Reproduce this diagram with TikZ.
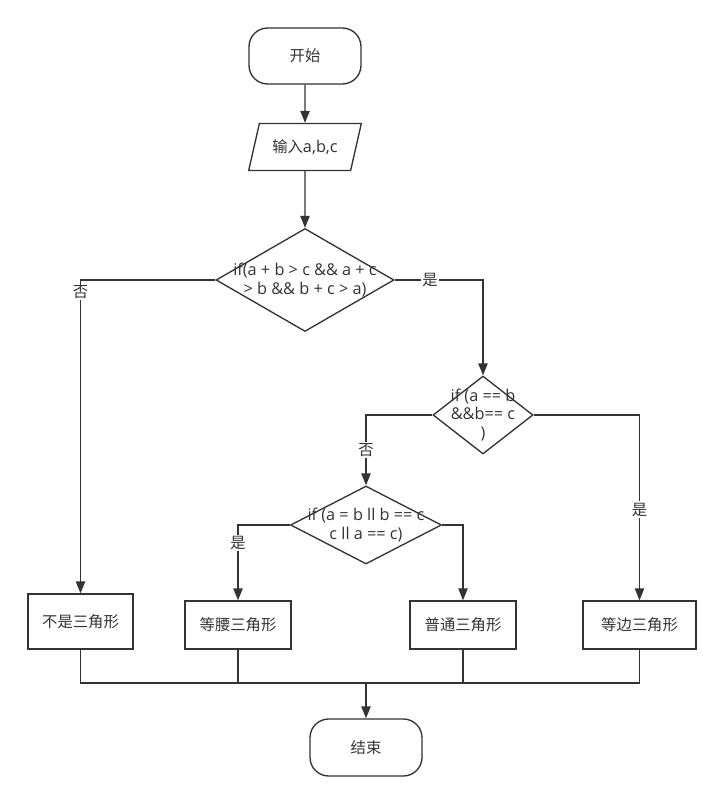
\documentclass[tikz,border=0pt]{standalone}
\usepackage{fontspec}
\setmainfont{Noto Sans CJK SC}
\newfontfamily\latin{Open Sans}
\usepackage{tikz}
\usetikzlibrary{arrows.meta,shapes.geometric}

\definecolor{ink}{HTML}{333333}

\begin{document}
\begin{tikzpicture}[x=0.75pt,y=-0.75pt,
  every node/.style={font=\fontsize{11.5}{13.5}\selectfont,text=ink},
  outline/.style={draw=ink,line width=1pt},
  wire/.style={draw=ink,line width=1pt},
  arrow/.style={wire,-{Triangle[length=9pt,width=7pt]}},
  terminal/.style={outline,rectangle,rounded corners=14pt,minimum width=112*0.75pt,minimum height=56*0.75pt},
  io/.style={outline,trapezium,trapezium left angle=70,trapezium right angle=110,trapezium stretches=true,minimum width=113*0.75pt,minimum height=47*0.75pt},
  decision/.style={outline,diamond,inner sep=0pt},
  cond/.style={align=center,font=\latin\fontsize{12.2}{13.6}\selectfont},
  process/.style={outline,rectangle,minimum height=48*0.75pt},
  tag/.style={fill=white,inner sep=1pt}]

% Page
\useasboundingbox (0,0) rectangle (723,803);

% Start and input
\node[terminal] (start) at (305,56) {开始};
\node[io] (input) at (305,147) {输入{\latin\fontsize{12.2}{13.6}\selectfont a,b,c}};

% Conditions
\node[decision,minimum width=178*0.75pt,minimum height=103*0.75pt,
  label={[cond]center:{if(a + b > c \&\& a + c\\> b \&\& b + c > a)}}] (d1) at (305,280) {};
\node[decision,minimum width=100*0.75pt,minimum height=78*0.75pt,
  label={[cond]center:{if (a == b\\\&\&b== c\\)}}] (d2) at (483,415) {};
\node[decision,minimum width=151*0.75pt,minimum height=78*0.75pt,
  label={[cond]center:{if (a = b ll b == c\\c ll a == c)}}] (d3) at (366,525) {};

% Results
\node[process,minimum width=105*0.75pt,minimum height=55*0.75pt] (notri) at (80.5,621.5) {不是三角形};
\node[process,minimum width=106*0.75pt] (iso) at (238,625) {等腰三角形};
\node[process,minimum width=106*0.75pt] (gen) at (463,625) {普通三角形};
\node[process,minimum width=113*0.75pt] (equi) at (639.5,625) {等边三角形};

% End
\node[terminal,minimum height=57*0.75pt] (stop) at (366,747.5) {结束};

% Flow
\draw[arrow] (start) -- (input);
\draw[arrow] (input) -- (d1);
\draw[arrow] (d1.west) -| node[tag,pos=0.52] {否} (notri.north);
\draw[arrow] (d1.east) -| node[tag,pos=0.2] {是} (d2.north);
\draw[arrow] (d2.west) -| node[tag,pos=0.75] {否} (d3.north);
\draw[arrow] (d2.east) -| node[tag,pos=0.755] {是} (equi.north);
\draw[arrow] (d3.west) -| node[tag,pos=0.62] {是} (iso.north);
\draw[arrow] (d3.east) -| (gen.north);

% Merge
\coordinate (m) at (366,683);
\foreach \b in {notri,iso,gen,equi}
  \draw[wire] (\b.south) |- (m);
\draw[arrow] (m) -- (stop);

\end{tikzpicture}
\end{document}
